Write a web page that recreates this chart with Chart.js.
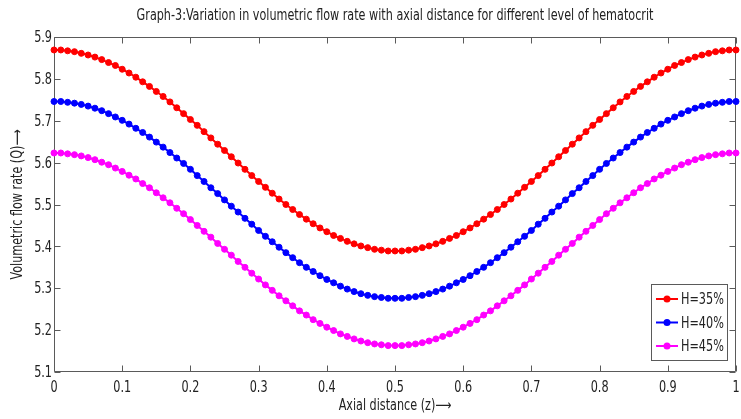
<!DOCTYPE html>
<html>
<head>
<meta charset="utf-8">
<script src="https://cdn.jsdelivr.net/npm/chart.js@4.4.0/dist/chart.umd.min.js"></script>
<style>
  html, body { margin: 0; padding: 0; background: #fff; }
  #chart { display: block; }
</style>
</head>
<body>
<canvas id="chart" width="741" height="419"></canvas>
<script>
// axial distance z (0 .. 1)
const z = [
  0.00, 0.01, 0.02, 0.03, 0.04, 0.05, 0.06, 0.07, 0.08, 0.09,
  0.10, 0.11, 0.12, 0.13, 0.14, 0.15, 0.16, 0.17, 0.18, 0.19,
  0.20, 0.21, 0.22, 0.23, 0.24, 0.25, 0.26, 0.27, 0.28, 0.29,
  0.30, 0.31, 0.32, 0.33, 0.34, 0.35, 0.36, 0.37, 0.38, 0.39,
  0.40, 0.41, 0.42, 0.43, 0.44, 0.45, 0.46, 0.47, 0.48, 0.49,
  0.50, 0.51, 0.52, 0.53, 0.54, 0.55, 0.56, 0.57, 0.58, 0.59,
  0.60, 0.61, 0.62, 0.63, 0.64, 0.65, 0.66, 0.67, 0.68, 0.69,
  0.70, 0.71, 0.72, 0.73, 0.74, 0.75, 0.76, 0.77, 0.78, 0.79,
  0.80, 0.81, 0.82, 0.83, 0.84, 0.85, 0.86, 0.87, 0.88, 0.89,
  0.90, 0.91, 0.92, 0.93, 0.94, 0.95, 0.96, 0.97, 0.98, 0.99,
  1.00
];

// volumetric flow rate Q for each hematocrit level
const h35 = [
  5.869, 5.869, 5.867, 5.865, 5.861, 5.857, 5.852, 5.846, 5.839, 5.832,
  5.823, 5.814, 5.804, 5.793, 5.782, 5.770, 5.758, 5.745, 5.731, 5.717,
  5.703, 5.689, 5.674, 5.659, 5.644, 5.629, 5.614, 5.599, 5.584, 5.569,
  5.555, 5.541, 5.527, 5.513, 5.500, 5.488, 5.476, 5.465, 5.454, 5.444,
  5.435, 5.426, 5.419, 5.412, 5.406, 5.401, 5.397, 5.393, 5.391, 5.389,
  5.389, 5.389, 5.391, 5.393, 5.397, 5.401, 5.406, 5.412, 5.419, 5.426,
  5.435, 5.444, 5.454, 5.465, 5.476, 5.488, 5.500, 5.513, 5.527, 5.541,
  5.555, 5.569, 5.584, 5.599, 5.614, 5.629, 5.644, 5.659, 5.674, 5.689,
  5.703, 5.717, 5.731, 5.745, 5.758, 5.770, 5.782, 5.793, 5.804, 5.814,
  5.823, 5.832, 5.839, 5.846, 5.852, 5.857, 5.861, 5.865, 5.867, 5.869,
  5.869
];
const h40 = [
  5.746, 5.746, 5.744, 5.742, 5.739, 5.735, 5.730, 5.724, 5.717, 5.709,
  5.701, 5.692, 5.682, 5.672, 5.661, 5.649, 5.637, 5.624, 5.611, 5.598,
  5.584, 5.569, 5.555, 5.540, 5.526, 5.511, 5.496, 5.482, 5.467, 5.453,
  5.438, 5.424, 5.411, 5.398, 5.385, 5.373, 5.361, 5.350, 5.340, 5.330,
  5.321, 5.313, 5.305, 5.298, 5.292, 5.287, 5.283, 5.280, 5.278, 5.276,
  5.276, 5.276, 5.278, 5.280, 5.283, 5.287, 5.292, 5.298, 5.305, 5.313,
  5.321, 5.330, 5.340, 5.350, 5.361, 5.373, 5.385, 5.398, 5.411, 5.424,
  5.438, 5.453, 5.467, 5.482, 5.496, 5.511, 5.526, 5.540, 5.555, 5.569,
  5.584, 5.598, 5.611, 5.624, 5.637, 5.649, 5.661, 5.672, 5.682, 5.692,
  5.701, 5.709, 5.717, 5.724, 5.730, 5.735, 5.739, 5.742, 5.744, 5.746,
  5.746
];
const h45 = [
  5.623, 5.623, 5.621, 5.619, 5.616, 5.612, 5.607, 5.601, 5.595, 5.587,
  5.579, 5.570, 5.561, 5.550, 5.540, 5.528, 5.516, 5.504, 5.491, 5.478,
  5.464, 5.450, 5.436, 5.422, 5.407, 5.393, 5.379, 5.364, 5.350, 5.336,
  5.322, 5.308, 5.295, 5.282, 5.270, 5.258, 5.246, 5.236, 5.225, 5.216,
  5.207, 5.199, 5.191, 5.185, 5.179, 5.174, 5.170, 5.167, 5.165, 5.163,
  5.163, 5.163, 5.165, 5.167, 5.170, 5.174, 5.179, 5.185, 5.191, 5.199,
  5.207, 5.216, 5.225, 5.236, 5.246, 5.258, 5.270, 5.282, 5.295, 5.308,
  5.322, 5.336, 5.350, 5.364, 5.379, 5.393, 5.407, 5.422, 5.436, 5.450,
  5.464, 5.478, 5.491, 5.504, 5.516, 5.528, 5.540, 5.550, 5.561, 5.570,
  5.579, 5.587, 5.595, 5.601, 5.607, 5.612, 5.616, 5.619, 5.621, 5.623,
  5.623
];

const seriesLabels = ['H=35%', 'H=40%', 'H=45%'];
const seriesColors = ['#ff0000', '#0000ff', '#ff00ff'];

const chartTitle = 'Graph-3:Variation in volumetric flow rate with axial distance for different level of hematocrit';
const xTitle = 'Axial distance (z)\u27F6';
const yTitle = 'Volumetric flow rate (Q)\u27F6';

const FONT = "'DejaVu Sans Condensed', 'DejaVu Sans', sans-serif";
const AXIS_COLOR = '#5a5a5a';
const TEXT_COLOR = '#222222';

function toPoints(values) {
  return values.map((v, i) => ({ x: z[i], y: v }));
}

// narrow lettering: draw text squeezed horizontally along its own direction
function drawNarrow(ctx, text, x, y, size, sx, align, rotation) {
  ctx.save();
  ctx.translate(x, y);
  if (rotation) ctx.rotate(rotation);
  ctx.scale(sx, 1);
  ctx.font = size + 'px ' + FONT;
  ctx.fillStyle = TEXT_COLOR;
  ctx.textAlign = align;
  ctx.textBaseline = 'middle';
  ctx.fillText(text, 0, 0);
  ctx.restore();
}

// box around the plot with inward tick marks on all four sides
const framePlugin = {
  id: 'frame',
  beforeDatasetsDraw(chart) {
    const { ctx, chartArea: a, scales } = chart;
    const L = Math.round(a.left) + 0.5, R = Math.round(a.right) - 0.5;
    const T = Math.round(a.top) + 0.5, B = Math.round(a.bottom) - 0.5;
    const len = 6;
    ctx.save();
    ctx.strokeStyle = AXIS_COLOR;
    ctx.lineWidth = 1;
    ctx.beginPath();
    ctx.rect(L, T, R - L, B - T);
    scales.x.ticks.forEach(t => {
      const px = Math.round(scales.x.getPixelForValue(t.value)) + 0.5;
      ctx.moveTo(px, B); ctx.lineTo(px, B - len);
      ctx.moveTo(px, T); ctx.lineTo(px, T + len);
    });
    scales.y.ticks.forEach(t => {
      const py = Math.round(scales.y.getPixelForValue(t.value)) + 0.5;
      ctx.moveTo(L, py); ctx.lineTo(L + len, py);
      ctx.moveTo(R, py); ctx.lineTo(R - len, py);
    });
    ctx.stroke();
    ctx.restore();
  }
};

// title, tick labels and axis titles
const labelPlugin = {
  id: 'labels',
  afterDraw(chart) {
    const { ctx, chartArea: a, scales } = chart;
    const cx = (a.left + a.right) / 2;
    drawNarrow(ctx, chartTitle, cx, 16, 15, 0.83, 'center');
    scales.x.ticks.forEach(t => {
      const px = scales.x.getPixelForValue(t.value);
      drawNarrow(ctx, String(Number(t.value.toFixed(1))), px, a.bottom + 16, 16, 0.78, 'center');
    });
    scales.y.ticks.forEach(t => {
      const py = scales.y.getPixelForValue(t.value);
      drawNarrow(ctx, t.value.toFixed(1), a.left - 2, py + 1, 16, 0.78, 'right');
    });
    drawNarrow(ctx, xTitle, cx, 406, 15, 0.83, 'center');
    drawNarrow(ctx, yTitle, 18, (a.top + a.bottom) / 2, 15, 0.83, 'center', -Math.PI / 2);
  }
};

// legend box in the lower right corner of the plot
const boxLegend = {
  id: 'boxLegend',
  afterDraw(chart) {
    const { ctx, chartArea: a } = chart;
    const w = 76, h = 76;
    const x0 = Math.round(a.right) - 85, y0 = Math.round(a.bottom) - 88;
    ctx.save();
    ctx.fillStyle = '#ffffff';
    ctx.fillRect(x0, y0, w, h);
    ctx.strokeStyle = AXIS_COLOR;
    ctx.lineWidth = 1;
    ctx.strokeRect(x0 + 0.5, y0 + 0.5, w, h);
    chart.data.datasets.forEach((ds, i) => {
      const y = y0 + 15 + i * 23.5;
      ctx.strokeStyle = ds.borderColor;
      ctx.lineWidth = 2;
      ctx.beginPath();
      ctx.moveTo(x0 + 5, y);
      ctx.lineTo(x0 + 27, y);
      ctx.stroke();
      ctx.fillStyle = ds.borderColor;
      ctx.beginPath();
      ctx.arc(x0 + 16, y, 3.5, 0, Math.PI * 2);
      ctx.fill();
      drawNarrow(ctx, ds.label, x0 + 30, y + 1, 16, 0.78, 'left');
    });
    ctx.restore();
  }
};

const datasets = [h35, h40, h45].map((values, i) => ({
  label: seriesLabels[i],
  data: toPoints(values),
  borderColor: seriesColors[i],
  backgroundColor: seriesColors[i],
  pointBackgroundColor: seriesColors[i],
  pointBorderColor: seriesColors[i],
  borderWidth: 2,
  pointRadius: 3,
  pointBorderWidth: 1,
  tension: 0,
  clip: false
}));

new Chart(document.getElementById('chart'), {
  type: 'line',
  data: { datasets },
  options: {
    responsive: false,
    animation: false,
    layout: { padding: { left: 0, right: 3, top: 37, bottom: 0 } },
    plugins: {
      legend: { display: false },
      tooltip: { enabled: false },
      title: { display: false }
    },
    scales: {
      x: {
        type: 'linear',
        min: 0,
        max: 1,
        grid: { display: false, drawTicks: false },
        border: { display: false },
        afterFit(scale) { scale.height = 47; },
        ticks: { stepSize: 0.1, display: false }
      },
      y: {
        type: 'linear',
        min: 5.1,
        max: 5.9,
        grid: { display: false, drawTicks: false },
        border: { display: false },
        afterFit(scale) { scale.width = 54; },
        ticks: { stepSize: 0.1, display: false }
      }
    }
  },
  plugins: [framePlugin, labelPlugin, boxLegend]
});
</script>
</body>
</html>
